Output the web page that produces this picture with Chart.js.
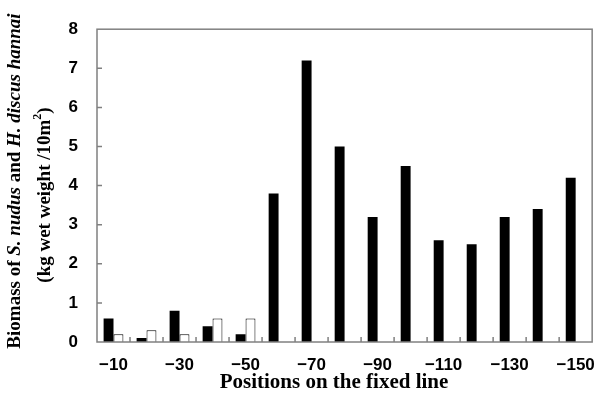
<!DOCTYPE html>
<html>
<head>
<meta charset="utf-8">
<script src="https://cdn.jsdelivr.net/npm/chart.js@4.4.0/dist/chart.umd.min.js"></script>
<style>
  html, body { margin: 0; padding: 0; background: #fff; }
  #wrap { width: 608px; height: 399px; }
</style>
</head>
<body>
<div id="wrap"><canvas id="myChart"></canvas></div>
<script>
const positions = ['\u221210', '\u221220', '\u221230', '\u221240', '\u221250', '\u221260', '\u221270', '\u221280',
  '\u221290', '\u2212100', '\u2212110', '\u2212120', '\u2212130', '\u2212140', '\u2212150'];
const nudus = [0.6, 0.1, 0.8, 0.4, 0.2, 3.8, 7.2, 5.0, 3.2, 4.5, 2.6, 2.5, 3.2, 3.4, 4.2];
const hannai = [0.2, 0.3, 0.2, 0.6, 0.6, null, null, null, null, null, null, null, null, null, null];
const yMin = 0, yMax = 8, yStep = 1;

const tickFont = { family: 'Liberation Sans', weight: 'bold', size: 17 };
const serif = 'Liberation Serif';

// frame, inward ticks and the two axis titles
const decor = {
  id: 'decor',
  afterDraw(chart) {
    const { ctx, chartArea: a, scales } = chart;
    ctx.save();
    ctx.strokeStyle = '#808080';
    ctx.lineWidth = 1.5;
    ctx.strokeRect(a.left, a.top, a.right - a.left, a.bottom - a.top);
    ctx.beginPath();
    for (let v = yMin + yStep; v < yMax; v += yStep) {
      const y = scales.y.getPixelForValue(v);
      ctx.moveTo(a.left, y);
      ctx.lineTo(a.left + 5, y);
    }
    for (let i = 0; i < positions.length - 1; i++) {
      const x = (scales.x.getPixelForValue(i) + scales.x.getPixelForValue(i + 1)) / 2;
      ctx.moveTo(x, a.bottom);
      ctx.lineTo(x, a.bottom - 5);
    }
    ctx.stroke();

    ctx.fillStyle = '#000';
    ctx.textBaseline = 'middle';
    ctx.textAlign = 'center';
    ctx.font = 'bold 21px "' + serif + '"';
    ctx.fillText('Positions on the fixed line', 334, 383);

    // rotated y title with italic names and a superscript
    const drawLine = (segs, cx, cy) => {
      ctx.save();
      ctx.translate(cx, cy);
      ctx.rotate(-Math.PI / 2);
      ctx.textAlign = 'left';
      let total = 0;
      segs.forEach(s => { ctx.font = s.font; total += ctx.measureText(s.t).width; });
      let x = -total / 2;
      segs.forEach(s => {
        ctx.font = s.font;
        ctx.fillText(s.t, x, s.dy || 0);
        x += ctx.measureText(s.t).width;
      });
      ctx.restore();
    };
    const b = 'bold 19px "' + serif + '"';
    const bi = 'italic bold 19px "' + serif + '"';
    drawLine([
      { t: 'Biomass of ', font: b },
      { t: 'S. nudus', font: bi },
      { t: ' and ', font: b },
      { t: 'H. discus hannai', font: bi }
    ], 15, 181);
    drawLine([
      { t: '(kg wet weight /10m', font: b },
      { t: '2', font: 'bold 12px "' + serif + '"', dy: -7 },
      { t: ')', font: b }
    ], 45, 195);
    ctx.restore();
  }
};

new Chart(document.getElementById('myChart'), {
  type: 'bar',
  data: {
    labels: positions,
    datasets: [
      {
        label: 'S. nudus',
        data: nudus,
        backgroundColor: '#000',
        borderWidth: 0,
        barPercentage: 1,
        categoryPercentage: 0.6
      },
      {
        label: 'H. discus hannai',
        data: hannai,
        backgroundColor: '#fff',
        borderColor: '#000',
        borderWidth: 1,
        barPercentage: 1,
        categoryPercentage: 0.6
      }
    ]
  },
  options: {
    responsive: true,
    maintainAspectRatio: false,
    animation: false,
    layout: { padding: { top: 24, right: 6, left: 0, bottom: 0 } },
    plugins: {
      legend: { display: false },
      tooltip: { enabled: false }
    },
    scales: {
      x: {
        offset: true,
        grid: { display: false, drawTicks: false },
        border: { display: false },
        ticks: {
          autoSkip: false,
          maxRotation: 0,
          padding: 13,
          color: '#000',
          font: tickFont,
          callback: (v, i) => i % 2 === 0 ? positions[i] : ''
        },
        afterFit: s => { s.height = 57; }
      },
      y: {
        min: yMin,
        max: yMax,
        grid: { display: false, drawTicks: false },
        border: { display: false },
        ticks: { stepSize: yStep, padding: 19, color: '#000', font: tickFont },
        afterFit: s => { s.width = 97; }
      }
    }
  },
  plugins: [decor]
});
</script>
</body>
</html>
